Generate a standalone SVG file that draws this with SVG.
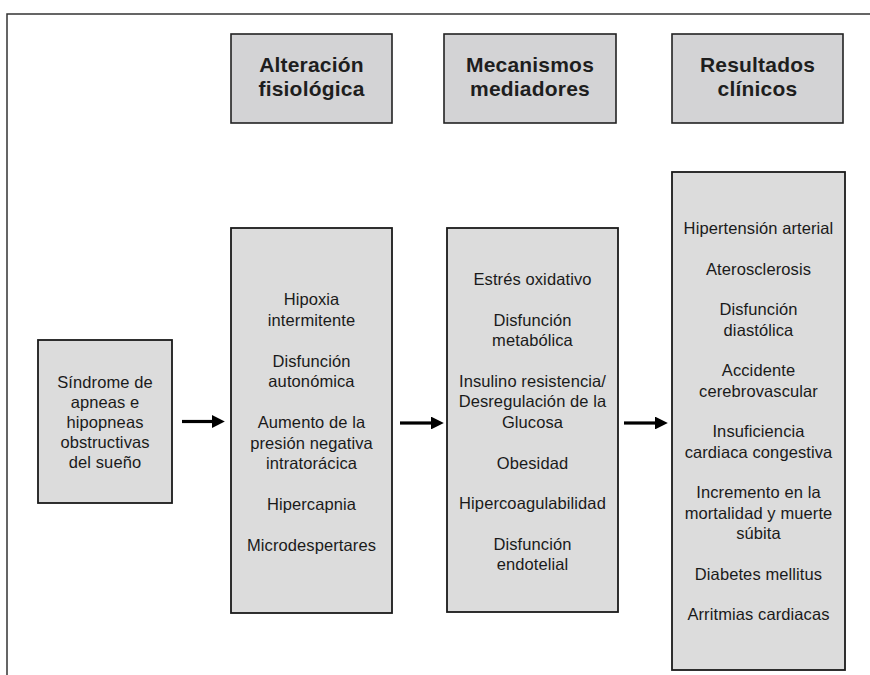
<svg xmlns="http://www.w3.org/2000/svg" width="870" height="675" viewBox="0 0 870 675">
<style>
.hdr{fill:#d3d3d5;stroke:#222;stroke-width:1.6}
.box{fill:#dcdcdc;stroke:#1a1a1a;stroke-width:1.8}
.ht{font-family:"Liberation Sans",Arial,sans-serif;font-size:21px;letter-spacing:0.2px;font-weight:bold;fill:#1e1e1e;text-anchor:middle}
.bt{font-family:"Liberation Sans",Arial,sans-serif;font-size:16.5px;letter-spacing:0.1px;fill:#1a1a1a;text-anchor:middle}
.frame{fill:none;stroke:#333;stroke-width:1.5}
.conn{stroke:#000;stroke-width:3.2;fill:none}
</style>
<defs>
<marker id="ah" markerWidth="4" markerHeight="4" refX="0" refY="2" orient="auto" markerUnits="strokeWidth">
<path d="M0,0 L4,2 L0,4 Z" fill="#000"/>
</marker>
</defs>
<rect width="870" height="675" fill="#fff"/>
<path class="frame" d="M7,675 L7,14 L870,14"/>

<g id="hdr-alteracion">
<rect class="hdr" x="231" y="34" width="161" height="89"/>
<text class="ht" x="311.5" y="72">Alteración</text>
<text class="ht" x="311.5" y="96">fisiológica</text>
</g>
<g id="hdr-mecanismos">
<rect class="hdr" x="444" y="34" width="172" height="89"/>
<text class="ht" x="530" y="72">Mecanismos</text>
<text class="ht" x="530" y="96">mediadores</text>
</g>
<g id="hdr-resultados">
<rect class="hdr" x="672" y="34" width="171" height="89"/>
<text class="ht" x="757.5" y="72">Resultados</text>
<text class="ht" x="757.5" y="96">clínicos</text>
</g>

<g id="node-saos">
<rect class="box" x="38" y="340" width="134" height="163"/>
<text class="bt" x="105" y="388">Síndrome de</text>
<text class="bt" x="105" y="408">apneas e</text>
<text class="bt" x="105" y="428">hipopneas</text>
<text class="bt" x="105" y="448">obstructivas</text>
<text class="bt" x="105" y="468">del sueño</text>
</g>

<g id="node-alteracion">
<rect class="box" x="231" y="228" width="161" height="385"/>
<text class="bt" x="311.5" y="305">Hipoxia</text>
<text class="bt" x="311.5" y="325.5">intermitente</text>
<text class="bt" x="311.5" y="366.5">Disfunción</text>
<text class="bt" x="311.5" y="387">autonómica</text>
<text class="bt" x="311.5" y="428">Aumento de la</text>
<text class="bt" x="311.5" y="448.5">presión negativa</text>
<text class="bt" x="311.5" y="469">intratorácica</text>
<text class="bt" x="311.5" y="510">Hipercapnia</text>
<text class="bt" x="311.5" y="551">Microdespertares</text>
</g>

<g id="node-mecanismos">
<rect class="box" x="447" y="228" width="171" height="384"/>
<text class="bt" x="532.5" y="284.5">Estrés oxidativo</text>
<text class="bt" x="532.5" y="325.5">Disfunción</text>
<text class="bt" x="532.5" y="346">metabólica</text>
<text class="bt" x="532.5" y="386.5">Insulino resistencia/</text>
<text class="bt" x="532.5" y="407">Desregulación de la</text>
<text class="bt" x="532.5" y="427.5">Glucosa</text>
<text class="bt" x="532.5" y="468.5">Obesidad</text>
<text class="bt" x="532.5" y="509">Hipercoagulabilidad</text>
<text class="bt" x="532.5" y="550">Disfunción</text>
<text class="bt" x="532.5" y="570">endotelial</text>
</g>

<g id="node-resultados">
<rect class="box" x="672" y="172" width="173" height="498"/>
<text class="bt" x="758.5" y="234">Hipertensión arterial</text>
<text class="bt" x="758.5" y="274.5">Aterosclerosis</text>
<text class="bt" x="758.5" y="315">Disfunción</text>
<text class="bt" x="758.5" y="335.5">diastólica</text>
<text class="bt" x="758.5" y="376">Accidente</text>
<text class="bt" x="758.5" y="396.5">cerebrovascular</text>
<text class="bt" x="758.5" y="437">Insuficiencia</text>
<text class="bt" x="758.5" y="457.5">cardiaca congestiva</text>
<text class="bt" x="758.5" y="498">Incremento en la</text>
<text class="bt" x="758.5" y="518.5">mortalidad y muerte</text>
<text class="bt" x="758.5" y="539">súbita</text>
<text class="bt" x="758.5" y="579.5">Diabetes mellitus</text>
<text class="bt" x="758.5" y="620">Arritmias cardiacas</text>
</g>

<g id="connectors">
<line class="conn" x1="182" y1="421.5" x2="212" y2="421.5" marker-end="url(#ah)"/>
<line class="conn" x1="400" y1="423" x2="431" y2="423" marker-end="url(#ah)"/>
<line class="conn" x1="624" y1="423" x2="655" y2="423" marker-end="url(#ah)"/>
</g>
</svg>
